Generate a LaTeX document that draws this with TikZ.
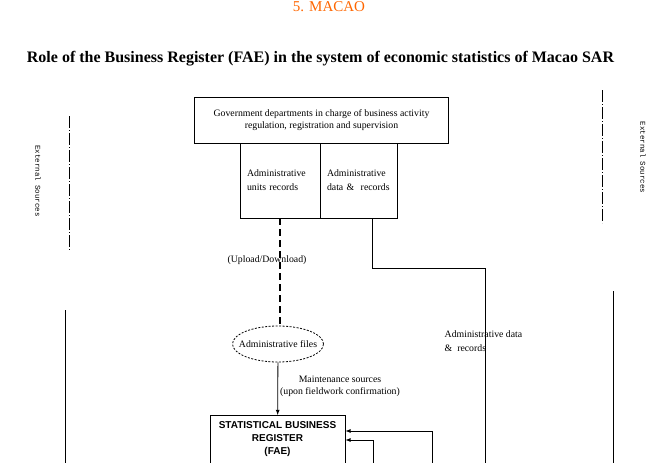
\documentclass[tikz,border=0pt]{standalone}
\usepackage{fontspec}
\setmainfont{Liberation Serif}
\setsansfont{Liberation Sans}
\setmonofont{Liberation Mono}
\usetikzlibrary{shapes,arrows,positioning}
\definecolor{macaoorange}{RGB}{255,102,0}
\tikzset{
  box/.style={draw, inner sep=0pt},
  small/.style={font=\fontsize{9.8}{12}\selectfont},
  wide/.style={font=\fontsize{9.8}{14}\selectfont},
  extsrc/.style={font=\ttfamily\fontsize{7.4}{8}\selectfont, rotate=-90},
  dashdot/.style={dash pattern=on 12pt off 2pt on 1pt off 2pt}
}

\begin{document}
\begin{tikzpicture}[x=10pt,y=-10pt,line width=0.8pt]
 \useasboundingbox (0,0) rectangle (65.4,46.3);
 \node (country) [text=macaoorange, font=\fontsize{15}{15}\selectfont] at (32.9,0.65) {5. MACAO};
 \node (title) [font=\bfseries\fontsize{16}{18}\selectfont] at (32.05,5.9) {Role of the Business Register (FAE) in the system of economic statistics of Macao SAR};
 % sources
 \node (gov) [box, small, align=center, minimum width=254pt, minimum height=46pt] at (32.15,12.0)
   {Government departments in charge of business activity\\regulation, registration and supervision};
 \node (unitsrec) [box, wide, align=left, text width=66pt, inner xsep=7pt, minimum height=75pt] at (28.0,18.05)
   {Administrative\\units records};
 \node (datarec) [box, wide, align=left, text width=63pt, inner xsep=7pt, minimum height=75pt] at (35.85,18.05)
   {Administrative\\data \&\ \ records};
 \node (files) [ellipse, draw, dash pattern=on 2pt off 1.5pt, small, minimum width=91pt, minimum height=36pt,
   inner xsep=-8pt, inner ysep=6pt] at (27.8,34.4)
   {Administrative files};
 \node (sbr) [box, anchor=north, align=center, minimum width=135pt, inner sep=4pt, inner ysep=6pt, text depth=30pt,
   font=\sffamily\bfseries\fontsize{10}{13}\selectfont] at (27.75,41.5)
   {STATISTICAL BUSINESS\\REGISTER\\(FAE)};
 % labels
 \node (updown) [small] at (26.7,26.0) {(Upload/Download)};
 \node (maint) [small, align=center] at (34.0,38.6) {Maintenance sources\\(upon fieldwork confirmation)};
 \node (admdata) [wide, align=left, anchor=west] at (44.1,34.1) {Administrative data\\\&\ \ records};
 \node (extleft) [extsrc] at (3.8,18.1) {External Sources};
 \node (extright) [extsrc] at (64.3,15.75) {External Sources};
 % connectors
 \coordinate (rbend) at (48.5,26.8);
 \coordinate (rbottom) at (48.5,46.3);
 \coordinate (fbA) at (43.2,46.3);
 \coordinate (fbB) at (37.3,46.3);
 \draw [line width=2pt, dash pattern=on 7pt off 4pt] (unitsrec.south) -- (unitsrec.south |- files.north);
 \draw ([xshift=13.5pt]datarec.south) |- (rbend) -- (rbottom);
 \draw [-latex] (files) -- (sbr);
 \draw [-latex] (fbA) |- (sbr.east |- 0,43.1);
 \draw [-latex] (fbB) |- (sbr.east |- 0,44.0);
 % side lines
 \draw [dashdot] (6.9,11.6) -- (6.9,25.0);
 \draw (6.5,31.0) -- (6.5,46.3);
 \draw [dashdot] (60.2,9.0) -- (60.2,22.3);
 \draw (61.3,29.1) -- (61.3,46.3);
\end{tikzpicture}
\end{document}
